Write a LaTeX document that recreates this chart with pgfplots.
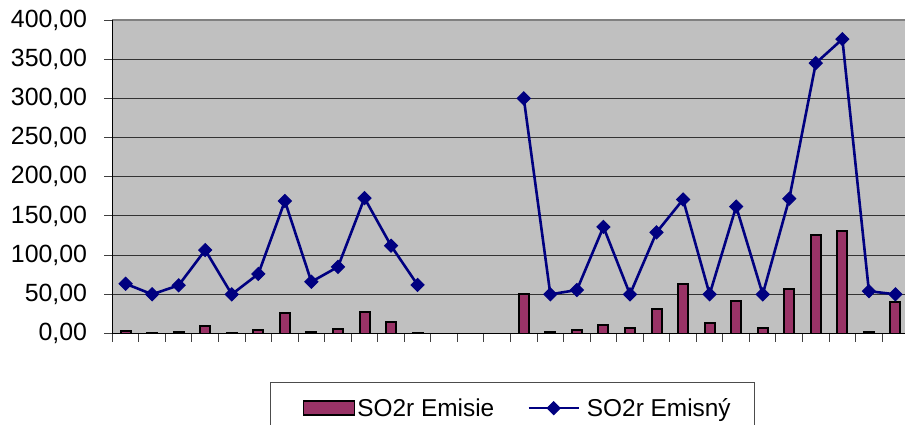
\documentclass[border=0pt]{standalone}
\usepackage{fontspec}
\setmainfont{Liberation Sans}
\usepackage{pgfplots}
\pgfplotsset{compat=1.18}

\definecolor{plum}{RGB}{153,51,102}
\definecolor{navy}{RGB}{0,0,128}
\definecolor{plotbg}{RGB}{192,192,192}

\pgfplotsset{
    barlegend/.style={legend image code/.code={
        \path (-8bp,0);
        \draw[fill=plum, draw=black, line width=1.8bp] (0bp,-7bp) rectangle (51bp,7bp);
    }},
    linelegend/.style={legend image code/.code={
        \draw[##1, mark repeat=2, mark phase=2] plot coordinates {(0bp,0bp) (25bp,0bp) (50bp,0bp)};
        \path (55bp,0);
    }},
}

\begin{document}
\begin{tikzpicture}[x=1bp,y=1bp]
\path[use as bounding box] (0,0) rectangle (905,-424);
\begin{axis}[
    at={(112.3bp,-20bp)}, anchor=north west,
    scale only axis,
    width=792.7bp, height=313.5bp,
    xmin=-0.5, xmax=29.36,
    ymin=0, ymax=400,
    axis background/.style={fill=plotbg},
    axis line style={draw=none},
    ytick={0,50,...,400},
    xtick={-0.5,0.5,...,29.5},
    xticklabels={},
    tick align=outside,
    xtick pos=bottom, ytick pos=left,
    major tick length=8bp,
    tick style={black!75, line width=1bp},
    ymajorgrids,
    major grid style={black!80, line width=1bp},
    /pgf/number format/assume math mode=true,
    yticklabel={\pgfmathprintnumber[fixed,fixed zerofill,precision=2,use comma]{\tick}},
    yticklabel style={font=\fontsize{25}{29}\selectfont, inner sep=0pt, xshift=-17bp},
    unbounded coords=jump,
    legend columns=2,
    legend style={
        at={(0.199,-0.1547)}, anchor=north west,
        draw=black!70, line width=0.8bp,
        font=\fontsize{24.5}{29}\selectfont,
        inner xsep=24bp, inner ysep=16bp,
        nodes={inner sep=0pt, anchor=west},
        /tikz/every odd column/.append style={column sep=2bp},
        /tikz/every even column/.append style={column sep=33bp},
    },
    after end axis/.code={
        \draw[black!50, line width=2bp] (rel axis cs:0,1) -- (rel axis cs:1,1);
        \draw[black, line width=1.2bp] (rel axis cs:0,0) -- (rel axis cs:0,1);
        \draw[black, line width=1.2bp] (rel axis cs:0,0) -- (rel axis cs:1,0);
    },
]
% SO2r Emisie (bars)
\addplot[ybar, bar width=10bp, bar shift=0pt, fill=plum, draw=black, line width=2bp,
    barlegend] coordinates {
    (0,3) (1,1) (2,2) (3,9.5) (4,1) (5,4.5) (6,25.7) (7,1.5) (8,5.7) (9,27)
    (10,14.3) (11,1)
    (15,50) (16,1.5) (17,4.5) (18,10.4) (19,6.6) (20,31.2) (21,63.5) (22,13)
    (23,41.5) (24,7.4) (25,57.2) (26,125.2) (27,130.3) (28,1.5) (29,40.2)
};
\addlegendentry{SO2r Emisie}
% SO2r Emisny (line)
\addplot[color=navy, line width=2.6bp, mark=square*, mark size=4.6bp,
    mark options={rotate=45, solid, line width=1bp}, linelegend] coordinates {
    (0,63.5) (1,50) (2,61.5) (3,106.5) (4,50) (5,76) (6,169) (7,66) (8,85)
    (9,172.8) (10,112) (11,62)
    (12,nan) (13,nan) (14,nan)
    (15,300) (16,50) (17,55.5) (18,136) (19,50) (20,129) (21,171) (22,50)
    (23,162) (24,50) (25,172) (26,345) (27,375.6) (28,54) (29,50)
};
\addlegendentry{SO2r Emisný}
\end{axis}
\end{tikzpicture}
\end{document}
